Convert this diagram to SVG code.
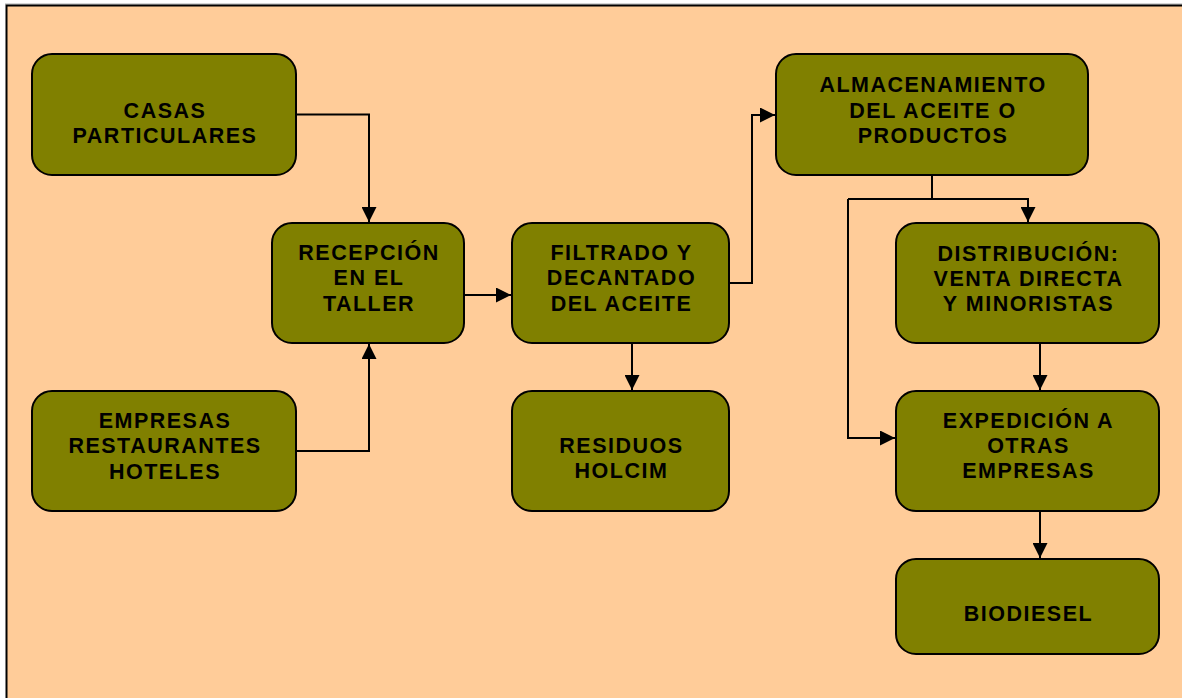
<svg xmlns="http://www.w3.org/2000/svg" width="1182" height="698" viewBox="0 0 1182 698">
<style>
.node rect{fill:#808000;stroke:#000;stroke-width:2}
.node text{font-family:"Liberation Sans","Arial",sans-serif;font-weight:bold;font-size:21.5px;letter-spacing:1.5px;fill:#000;text-anchor:middle}
.conn path{fill:none;stroke:#000;stroke-width:2}
</style>
<defs>
<marker id="arr" viewBox="0 0 15 15" refX="15" refY="7.5" markerWidth="15" markerHeight="15" markerUnits="userSpaceOnUse" orient="auto">
<path d="M0,0 L15,7.5 L0,15 Z" fill="#000"/>
</marker>
</defs>
<rect x="0" y="0" width="1182" height="698" fill="#fff"/>
<line x1="5" y1="4" x2="1182" y2="4" stroke="#aaa" stroke-width="1"/>
<rect x="6.5" y="5.5" width="1185" height="700" fill="#FFCC99" stroke="#000" stroke-width="2"/>

<g class="conn">
<path d="M296,114.5 H369 V222" marker-end="url(#arr)"/>
<path d="M296,451 H369 V344" marker-end="url(#arr)"/>
<path d="M464,295 H511" marker-end="url(#arr)"/>
<path d="M729,283 H752 V115 H775" marker-end="url(#arr)"/>
<path d="M932,175 V199"/>
<path d="M848,199 H1028 V222" marker-end="url(#arr)"/>
<path d="M848,199 V438 H895" marker-end="url(#arr)"/>
<path d="M1040,343 V390" marker-end="url(#arr)"/>
<path d="M1040,511 V558" marker-end="url(#arr)"/>
<path d="M632,343 V390" marker-end="url(#arr)"/>
</g>

<g id="casas" class="node">
<rect x="32" y="54" width="264" height="121" rx="20"/>
<text x="165" y="118">CASAS</text>
<text x="165" y="143">PARTICULARES</text>
</g>
<g id="empresas" class="node">
<rect x="32" y="391" width="264" height="120" rx="20"/>
<text x="165" y="428">EMPRESAS</text>
<text x="165" y="453">RESTAURANTES</text>
<text x="165" y="479">HOTELES</text>
</g>
<g id="recepcion" class="node">
<rect x="272" y="223" width="192" height="120" rx="20"/>
<text x="369" y="260">RECEPCIÓN</text>
<text x="369" y="285">EN EL</text>
<text x="369" y="311">TALLER</text>
</g>
<g id="filtrado" class="node">
<rect x="512" y="223" width="217" height="120" rx="20"/>
<text x="621.5" y="260">FILTRADO Y</text>
<text x="621.5" y="285">DECANTADO</text>
<text x="621.5" y="311">DEL ACEITE</text>
</g>
<g id="residuos" class="node">
<rect x="512" y="391" width="217" height="120" rx="20"/>
<text x="621.5" y="453">RESIDUOS</text>
<text x="621.5" y="478">HOLCIM</text>
</g>
<g id="almacenamiento" class="node">
<rect x="776" y="54" width="312" height="121" rx="20"/>
<text x="933" y="92">ALMACENAMIENTO</text>
<text x="933" y="118">DEL ACEITE O</text>
<text x="933" y="143">PRODUCTOS</text>
</g>
<g id="distribucion" class="node">
<rect x="896" y="223" width="263" height="120" rx="20"/>
<text x="1028.5" y="261">DISTRIBUCIÓN:</text>
<text x="1028.5" y="286">VENTA DIRECTA</text>
<text x="1028.5" y="311">Y MINORISTAS</text>
</g>
<g id="expedicion" class="node">
<rect x="896" y="391" width="263" height="120" rx="20"/>
<text x="1028.5" y="428">EXPEDICIÓN A</text>
<text x="1028.5" y="453">OTRAS</text>
<text x="1028.5" y="478">EMPRESAS</text>
</g>
<g id="biodiesel" class="node">
<rect x="896" y="559" width="263" height="95" rx="20"/>
<text x="1028.5" y="621">BIODIESEL</text>
</g>
</svg>
